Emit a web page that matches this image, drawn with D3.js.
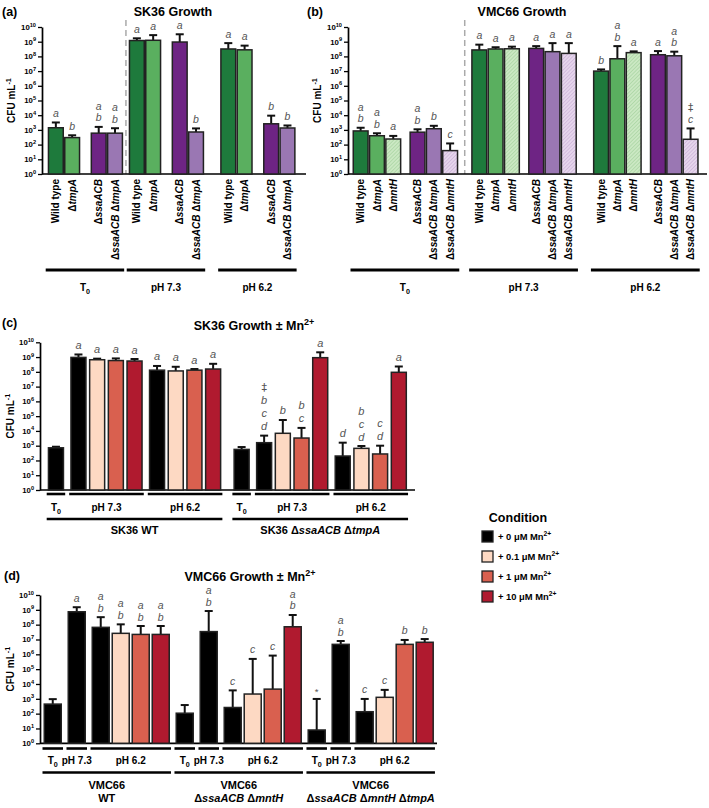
<!DOCTYPE html>
<html><head><meta charset="utf-8">
<script src="https://cdn.jsdelivr.net/npm/d3@7"></script>
<style>body{margin:0;background:#fff} svg{display:block;font-family:"Liberation Sans",Arial,Helvetica,sans-serif}</style>
</head><body><svg id="c" width="709" height="808"></svg>
<script>
// ================= DATA =================
// Panel (a): SK36 growth
const aGroups = ["T~0~", "pH 7.3", "pH 6.2"];
const aGenotypes = ["Wild type", "Δ*tmpA*", "Δ*ssaACB*", "Δ*ssaACB* Δ*tmpA*"];
const aGenoKey = ["wt", "tmpA", "ssa", "ssaTmp"];
const aSubgroup = [0, 0, 1, 1];
const aMeans = [[1.4e3, 3.0e2, 6.0e2, 6.0e2], [1.2e9, 1.25e9, 9.5e8, 7.2e2], [3.2e8, 2.8e8, 2.6e3, 1.35e3]];
const aErrTop = [[3.2e3, 4.3e2, 1.6e3, 1.3e3], [1.7e9, 2.8e9, 3.2e9, 1.26e3], [8.0e8, 5.4e8, 9.3e3, 2.0e3]];
const aLetters = [["a", "b", "ab", "ab"], ["a", "a", "a", "b"], ["a", "a", "b", "b"]];

// Panel (b): VMC66 growth
const bGroups = ["T~0~", "pH 7.3", "pH 6.2"];
const bGenotypes = ["Wild type", "Δ*tmpA*", "Δ*mntH*", "Δ*ssaACB*", "Δ*ssaACB* Δ*tmpA*", "Δ*ssaACB* Δ*mntH*"];
const bGenoKey = ["wt", "tmpA", "mntH", "ssa", "ssaTmp", "ssaMnt"];
const bSubgroup = [0, 0, 0, 1, 1, 1];
const bMeans = [[8.5e2, 4.0e2, 2.4e2, 7.0e2, 1.2e3, 3.9e1], [2.75e8, 3.2e8, 3.3e8, 3.5e8, 2.1e8, 1.6e8], [1.0e7, 6.9e7, 1.8e8, 1.3e8, 1.1e8, 2.3e2]];
const bErrTop = [[1.4e3, 5.9e2, 3.9e2, 1.1e3, 1.9e3, 1.2e2], [6.3e8, 4.2e8, 4.6e8, 5.0e8, 8.0e8, 8.0e8], [1.3e7, 5.0e8, 2.2e8, 2.3e8, 2.1e8, 1.26e3]];
const bLetters = [["ab", "ab", "a", "ab", "b", "c"], ["a", "a", "a", "a", "a", "a"], ["b", "ab", "a", "a", "ab", "‡c"]];

// Legend / conditions
const conditions = ["+ 0 μM Mn^2+^", "+ 0.1 μM Mn^2+^", "+ 1 μM Mn^2+^", "+ 10 μM Mn^2+^"];
const phases = ["T~0~", "pH 7.3", "pH 6.2"];

// Panel (c): SK36 growth ± Mn2+  [strain][phase][condition]
const cStrains = [["SK36 WT"], ["SK36 Δ*ssaACB* Δ*tmpA*"]];
const cMeans = [[[7.2e2], [9.5e8, 6.6e8, 5.8e8, 5.4e8], [1.3e8, 1.15e8, 1.3e8, 1.55e8]],
                [[5.6e2], [1.6e3, 6.9e3, 3.3e3, 9.1e8], [2.0e2, 6.6e2, 2.75e2, 9.3e7]]];
const cErrTop = [[[8.5e2], [1.5e9, 7.8e8, 8.1e8, 7.4e8], [2.5e8, 2.2e8, 1.55e8, 3.5e8]],
                 [[8.1e2], [4.8e3, 5.5e4, 1.6e4, 2.1e9], [1.6e3, 9.5e2, 1.0e3, 2.3e8]]];
const cLetters = [[[""], ["a", "a", "a", "a"], ["a", "a", "a", "a"]],
                  [[""], ["‡bcd", "b", "bc", "a"], ["d", "bcd", "cd", "a"]]];

// Panel (d): VMC66 growth ± Mn2+
const dStrains = [["VMC66", "WT"], ["VMC66", "Δ*ssaACB* Δ*mntH*"], ["VMC66", "Δ*ssaACB* Δ*mntH* Δ*tmpA*"]];
const dMeans = [[[4.4e2], [7.4e8], [6.6e7, 2.6e7, 2.2e7, 2.2e7]],
                [[1.07e2], [3.4e7], [2.6e2, 2.1e3, 4.5e3, 7.2e7]],
                [[7.9], [4.7e6], [1.35e2, 1.26e3, 4.7e6, 6.5e6]]];
const dErrTop = [[[9.5e2], [1.5e9], [3.2e8, 1.05e8, 8.1e7, 8.1e7]],
                 [[3.8e2], [8.3e8], [3.7e3, 4.9e5, 8.2e5, 4.5e8]],
                 [[9.8e2], [7.9e6], [9.8e2, 4.0e3, 9.3e6, 1.07e7]]];
const dLetters = [[[""], ["a"], ["ab", "ab", "ab", "ab"]],
                  [[""], ["ab"], ["c", "c", "c", "ab"]],
                  [["*"], ["ab"], ["c", "c", "b", "b"]]];

// ================= STYLE =================
const genoFill = {wt: "#1e7a3c", tmpA: "#5aaf5f", mntH: "url(#hatchG)", ssa: "#6e2484", ssaTmp: "#9a77b3", ssaMnt: "url(#hatchP)"};
const condFill = ["#000000", "#fdd9c3", "#d9604f", "#b01a2f"];
const LETTER_COLOR = "#555";

const svg = d3.select("#c");
const defs = svg.append("defs");
function hatch(id, bg, fg) {
  const p = defs.append("pattern").attr("id", id).attr("patternUnits", "userSpaceOnUse")
    .attr("width", 2.6).attr("height", 2.6).attr("patternTransform", "rotate(45)");
  p.append("rect").attr("width", 2.6).attr("height", 2.6).attr("fill", bg);
  p.append("line").attr("x1", 0).attr("y1", 0).attr("x2", 0).attr("y2", 2.6).attr("stroke", fg).attr("stroke-width", 1.1);
}
hatch("hatchG", "#cbe8c3", "#9fd098");
hatch("hatchP", "#e6d6ec", "#c6a9d4");

function rich(sel, str, size) {
  const parts = str.split(/(\*[^*]+\*|~[^~]+~|\^[^^]+\^)/).filter(s => s.length);
  let shift = 0;
  parts.forEach(p => {
    const t = sel.append("tspan");
    let dy = 0;
    if (p[0] === "*" && p.length > 1) { t.text(p.slice(1, -1)).attr("font-style", "italic"); dy = -shift; shift = 0; }
    else if (p[0] === "~") { t.text(p.slice(1, -1)).attr("font-size", size * 0.72); dy = size * 0.3 - shift; shift = size * 0.3; }
    else if (p[0] === "^") { t.text(p.slice(1, -1)).attr("font-size", size * 0.72); dy = -size * 0.42 - shift; shift = -size * 0.42; }
    else { t.text(p); dy = -shift; shift = 0; }
    if (dy) t.attr("dy", dy);
  });
  return sel;
}
function text(x, y, str, size, opts = {}) {
  const t = svg.append("text").attr("x", x).attr("y", y).attr("font-size", size)
    .attr("font-weight", opts.weight || "bold").attr("text-anchor", opts.anchor || "middle")
    .attr("fill", opts.fill || "#000");
  if (opts.rotate) t.attr("transform", `rotate(${opts.rotate},${x},${y})`);
  return rich(t, str, size);
}

function yAxis(y, x0, xEnd, labelX) {
  const g = svg.append("g");
  const ax = d3.axisLeft(y).tickValues(d3.range(0, 11).map(e => Math.pow(10, e)))
    .tickSize(4).tickSizeOuter(0).tickFormat("");
  const ag = g.append("g").attr("transform", `translate(${x0},0)`).call(ax);
  ag.select(".domain").attr("stroke", "#000").attr("stroke-width", 1.7);
  ag.selectAll(".tick line").attr("stroke", "#000").attr("stroke-width", 1.3);
  d3.range(0, 11).forEach(e => text(x0 - 6, y(Math.pow(10, e)) + 2.8, `10^${e}^`, 7.8, {anchor: "end"}));
  svg.append("line").attr("x1", x0).attr("x2", xEnd).attr("y1", y(1)).attr("y2", y(1))
    .attr("stroke", "#000").attr("stroke-width", 1.7);
  const cy = (y.range()[0] + y.range()[1]) / 2;
  text(labelX, cy, "CFU mL^-1^", 10, {rotate: -90});
}

// positions bars in "bar units" given hierarchical keys
function layoutUnits(bars, gaps) {
  let u = 0;
  bars.forEach((b, i) => {
    if (i > 0) {
      const p = bars[i - 1];
      u += 1 + (b.k1 !== p.k1 ? gaps.k1[b.k1 - 1] : (b.k2 !== p.k2 ? gaps.k2 : gaps.bar));
    }
    b.u = u;
  });
  return u + 1;
}

function drawBars(bars, x, y, capW, letterSize, letterStep) {
  const bw = x(1) - x(0);
  bars.forEach(b => {
    const x0 = x(b.u), cx = x0 + bw / 2;
    svg.append("line").attr("x1", cx).attr("x2", cx).attr("y1", y(b.mean)).attr("y2", y(b.err))
      .attr("stroke", "#111").attr("stroke-width", 2);
    svg.append("line").attr("x1", cx - capW / 2).attr("x2", cx + capW / 2).attr("y1", y(b.err)).attr("y2", y(b.err))
      .attr("stroke", "#111").attr("stroke-width", 2);
    svg.append("rect").attr("x", x0 + 0.75).attr("y", y(b.mean)).attr("width", bw - 1.5)
      .attr("height", y(1) - y(b.mean)).attr("fill", b.fill).attr("stroke", "#222").attr("stroke-width", 1.5);
    const L = Array.from(b.letters || "");
    L.forEach((ch, i) => {
      const yy = y(b.err) - 5.5 - (L.length - 1 - i) * letterStep + (ch === "*" ? 2 : 0);
      const sym = (ch === "‡" || ch === "*");
      svg.append("text").attr("x", cx).attr("y", yy).attr("text-anchor", "middle")
        .attr("font-size", ch === "*" ? letterSize - 1 : letterSize)
        .attr("font-family", ch === "‡" ? '"DejaVu Sans", sans-serif' : null)
        .attr("font-style", sym ? "normal" : "italic")
        .attr("fill", LETTER_COLOR).text(ch);
    });
    b.x0 = x0; b.x1 = x0 + bw; b.cx = cx;
  });
}

function hbar(x1, x2, yy, w) {
  svg.append("line").attr("x1", x1).attr("x2", x2).attr("y1", yy).attr("y2", yy)
    .attr("stroke", "#000").attr("stroke-width", w);
}

// ================= PANEL A / B =================
function genoPanel(cfg) {
  const bars = [];
  cfg.groups.forEach((g, gi) => cfg.genos.forEach((name, k) => bars.push({
    k1: gi, k2: cfg.sub[k], mean: cfg.means[gi][k], err: cfg.err[gi][k], letters: cfg.letters[gi][k],
    fill: genoFill[cfg.keys[k]], name
  })));
  const total = layoutUnits(bars, cfg.gaps);
  const x = d3.scaleLinear().domain([0, total]).range([cfg.x0, cfg.x0 + total * cfg.unit]);
  const y = d3.scaleLog().domain([1, 1e10]).range([174, 27]);
  const firstB = bars.find(b => b.k1 === 1), lastA = bars.filter(b => b.k1 === 0).pop();
  const sepX = (x(lastA.u + 1) + x(firstB.u)) / 2;
  svg.append("line").attr("x1", sepX).attr("x2", sepX).attr("y1", 20).attr("y2", 174)
    .attr("stroke", "#aaa").attr("stroke-width", 1.5).attr("stroke-dasharray", "6,4");
  yAxis(y, cfg.axisX, cfg.axisEnd, cfg.labelX);
  drawBars(bars, x, y, 8, 10.5, 11.5);
  bars.forEach(b => text(b.cx + 3.6, 179, b.name, 10, {anchor: "end", rotate: -90}));
  cfg.groups.forEach((g, gi) => {
    const gb = bars.filter(b => b.k1 === gi);
    const a = gb[0].x0 - 2, z = gb[gb.length - 1].x1 + 1;
    hbar(a, z, 270, 3);
    text((a + z) / 2, 291, g, 10);
  });
}

genoPanel({groups: aGroups, genos: aGenotypes, keys: aGenoKey, sub: aSubgroup, means: aMeans, err: aErrTop,
  letters: aLetters, gaps: {k1: [0.34, 0.98], k2: 0.63, bar: 0}, x0: 47.7, unit: 16.3, axisX: 42, axisEnd: 306, labelX: 15});
genoPanel({groups: bGroups, genos: bGenotypes, keys: bGenoKey, sub: bSubgroup, means: bMeans, err: bErrTop,
  letters: bLetters, gaps: {k1: [0.79, 0.98], k2: 0.49, bar: 0}, x0: 352.5, unit: 16.3, axisX: 348, axisEnd: 707, labelX: 321});

text(2, 16, "(a)", 12.5, {anchor: "start"});
text(307, 16, "(b)", 12.5, {anchor: "start"});
text(173, 16, "SK36 Growth", 12.5);
text(522, 16, "VMC66 Growth", 12.5);

// ================= PANEL C / D =================
function mnPanel(cfg) {
  const bars = [];
  cfg.strains.forEach((s, si) => phases.forEach((ph, pi) => cfg.means[si][pi].forEach((m, ci) => bars.push({
    k1: si, k2: pi, mean: m, err: cfg.err[si][pi][ci], letters: cfg.letters[si][pi][ci], fill: condFill[ci]
  }))));
  const total = layoutUnits(bars, cfg.gaps);
  const x = d3.scaleLinear().domain([0, total]).range([cfg.x0, cfg.x0 + total * cfg.unit]);
  const y = d3.scaleLog().domain([1, 1e10]).range(cfg.yRange);
  yAxis(y, cfg.axisX, cfg.axisEnd, 14);
  drawBars(bars, x, y, cfg.cap, cfg.letterSize, cfg.letterStep);
  cfg.strains.forEach((s, si) => {
    const sb = bars.filter(b => b.k1 === si);
    phases.forEach((ph, pi) => {
      const pb = sb.filter(b => b.k2 === pi);
      const a = pb[0].x0 - 1, z = pb[pb.length - 1].x1 + 1;
      hbar(a, z, cfg.lineY1, 2.6);
      text((a + z) / 2, cfg.phaseTextY, ph, 10);
    });
    const a = sb[0].x0 - 1, z = sb[sb.length - 1].x1 + 1;
    hbar(a, z, cfg.lineY2, 2.6);
    s.forEach((line, li) => text((a + z) / 2, cfg.strainTextY + li * 13, line, 11));
  });
}

mnPanel({strains: cStrains, means: cMeans, err: cErrTop, letters: cLetters,
  gaps: {k1: [0.727], k2: 0.364, bar: 0.133}, x0: 47.7, unit: 16.5, yRange: [490, 342.3],
  axisX: 40, axisEnd: 415, cap: 8, letterSize: 11, letterStep: 13,
  lineY1: 494, phaseTextY: 511, lineY2: 519, strainTextY: 534});

mnPanel({strains: dStrains, means: dMeans, err: dErrTop, letters: dLetters,
  gaps: {k1: [0.297, 0.297], k2: 0.297, bar: 0.081}, x0: 43.5, unit: 18.5, yRange: [743.3, 595],
  axisX: 40, axisEnd: 437, cap: 8, letterSize: 10.5, letterStep: 11.5,
  lineY1: 748.5, phaseTextY: 764, lineY2: 772.5, strainTextY: 789});

text(2, 327, "(c)", 12.5, {anchor: "start"});
text(4, 580, "(d)", 12.5, {anchor: "start"});
text(254, 330, "SK36 Growth ± Mn^2+^", 12.5);
text(250, 581, "VMC66 Growth ± Mn^2+^", 12.5);

// ================= LEGEND =================
text(518, 522, "Condition", 12.5);
const ly = d3.scaleBand().domain(conditions).range([531, 604]).paddingInner(0.35).paddingOuter(0);
conditions.forEach((c, i) => {
  svg.append("rect").attr("x", 482).attr("y", ly(c)).attr("width", 11).attr("height", 11)
    .attr("fill", condFill[i]).attr("stroke", "#222").attr("stroke-width", 1.3);
  text(498, ly(c) + 8.7, c, 9.4, {anchor: "start"});
});
</script></body></html>
